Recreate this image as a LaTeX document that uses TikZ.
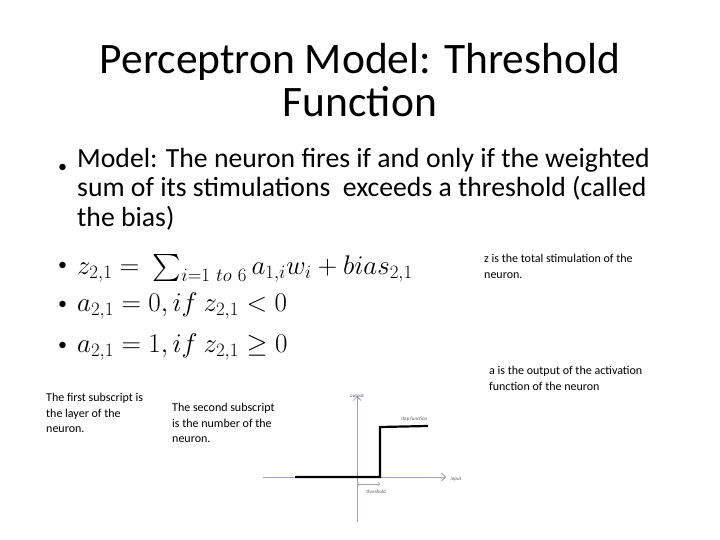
\RequirePackage{fix-cm}
\documentclass[tikz,border=0pt]{standalone}
\usepackage{fontspec}
\setmainfont{Carlito}
\usepackage{amssymb}
\usetikzlibrary{arrows.meta}
\begin{document}
\begin{tikzpicture}[x=1pt,y=-1pt,
  title/.style={font=\fontsize{43.5}{43}\selectfont, align=center},
  body/.style={font=\fontsize{27.7}{29.5}\selectfont, anchor=west, inner sep=0},
  bul/.style={font=\fontsize{18}{20}\selectfont, anchor=west, inner sep=0},
  eq/.style={font=\fontsize{27}{29}\selectfont, anchor=west, inner sep=0},
  small/.style={font=\fontsize{12}{15.5}\selectfont, align=left, anchor=north west, inner sep=0},
  tiny/.style={font=\fontsize{5}{6}\selectfont\itshape, text=gray!70!black, inner sep=0},
  axis/.style={draw=blue!25!gray!60, line width=0.8pt, -{Straight Barb[length=4pt]}}]
\useasboundingbox (0,0) rectangle (720,540);
\node[title] (t) at (360,80) {Perceptron Model: Threshold\\Function};
\node[bul] (b0) at (58,168) {\textbullet};
\node[body, anchor=north west, align=left] (m) at (77,148) {Model: The neuron fires if and only if the weighted\\sum of its stimulations\ \ exceeds a threshold (called\\the bias)};
\node[bul] (b1) at (58,266) {\textbullet};
\node[eq] (e1) at (77,268) {$z_{2,1} =\ \sum_{i=1\ to\ 6} a_{1,i}w_i + bias_{2,1}$};
\node[bul] (b2) at (58,305) {\textbullet};
\node[eq] (e2) at (77,306) {$a_{2,1} = 0, if\ z_{2,1} < 0$};
\node[bul] (b3) at (58,346) {\textbullet};
\node[eq] (e3) at (77,347) {$a_{2,1} = 1, if\ z_{2,1} \geq 0$};
\node[small] (n1) at (484,254) {z is the total stimulation of the\\neuron.};
\node[small] (n2) at (489,366) {a is the output of the activation\\function of the neuron};
\node[small] (n3) at (46,393) {The first subscript is\\the layer of the\\neuron.};
\node[small] (n4) at (172,403) {The second subscript\\is the number of the\\neuron.};
\coordinate (xa) at (263,477); \coordinate (xb) at (446,477);
\coordinate (ya) at (357,522); \coordinate (yb) at (357,396);
\draw[axis] (xa) -- (xb);
\draw[axis] (ya) -- (yb);
\node[tiny] (lo) at (357,396) {output};
\node[tiny] (li) at (456,479) {input};
\node[tiny] (ls) at (414,419) {step function};
\node[tiny] (lt) at (376,492) {threshold};
\coordinate (s0) at (295,477); \coordinate (s1) at (380,477);
\coordinate (s2) at (380,427); \coordinate (s3) at (428,426);
\draw[line width=2.2pt] (s0) -- (s1) -- (s2) -- (s3);
\coordinate (ta) at (357,484); \coordinate (tb) at (380,484);
\draw[draw=blue!25!gray!60, line width=0.5pt, {Straight Barb[length=2pt]}-{Straight Barb[length=2pt]}] (ta) -- (tb);
\end{tikzpicture}
\end{document}
